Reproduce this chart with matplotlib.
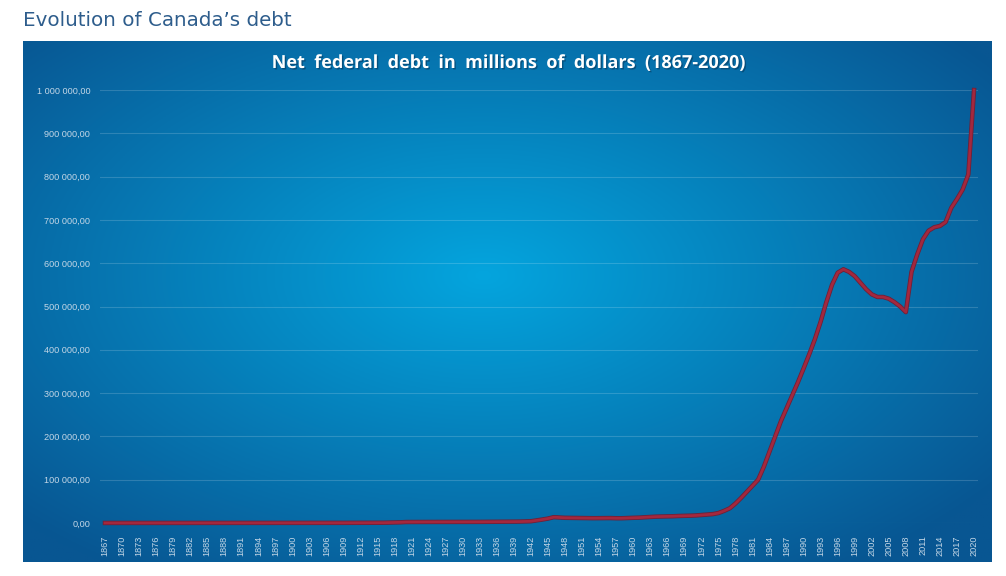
import numpy as np
import matplotlib
matplotlib.use("Agg")
import matplotlib.pyplot as plt
import matplotlib.patheffects as pe


# net federal debt, millions of dollars, one value per year 1867-2020
years = list(range(1867, 2021))
debt = [
    76, 76, 78, 78, 77, 82, 100, 108, 116, 125,          # 1867-1876
    134, 140, 142, 152, 156, 153, 158, 182, 196, 224,    # 1877-1886
    227, 235, 237, 238, 237, 241, 241, 246, 253, 258,    # 1887-1896
    262, 263, 266, 265, 268, 271, 261, 260, 266, 267,    # 1897-1906
    263, 277, 324, 336, 340, 339, 314, 336, 449, 609,    # 1907-1916
    880, 1192, 1575, 2249, 2341, 2340, 2453, 2418, 2418, 2389,   # 1917-1926
    2348, 2296, 2226, 2178, 2262, 2376, 2597, 2731, 2847, 2996,  # 1927-1936
    3083, 3101, 3153, 3271, 3649, 4045, 5960, 8000, 10262, 13421,  # 1937-1946
    12700, 12000, 11800, 11600, 11400, 11200, 11100, 11100, 11300, 11400,  # 1947-1956
    11000, 11000, 11600, 12000, 12400, 13200, 13900, 14700, 15000, 15200,  # 1957-1966
    15600, 16200, 16500, 16900, 17400, 18500, 19400, 20500, 23000, 28000,  # 1967-1976
    34000, 45000, 58000, 72000, 86000, 100000, 130000, 165000, 200000, 235000,  # 1977-1986
    265000, 295000, 325000, 357000, 390000, 425000, 465000, 510000, 550000, 578000,  # 1987-1996
    586000, 580000, 570000, 555000, 540000, 528000, 522000, 522000, 518000, 510000,  # 1997-2006
    500000, 487000, 580000, 620000, 655000, 675000, 683000, 686000, 695000, 728000,  # 2007-2016
    748000, 770000, 805000, 1000000,                     # 2017-2020
]
y_ticks = [0, 100000, 200000, 300000, 400000, 500000, 600000, 700000, 800000, 900000, 1000000]
y_labels = ["0,00", "100 000,00", "200 000,00", "300 000,00", "400 000,00", "500 000,00",
            "600 000,00", "700 000,00", "800 000,00", "900 000,00", "1 000 000,00"]
x_ticks = years[::3]

W, H = 1006, 576
fig = plt.figure(figsize=(W / 100, H / 100), dpi=100)
fig.patch.set_facecolor("white")

# blue panel with radial gradient
px0, py0, px1, py1 = 23, 41, 992, 562
bg = fig.add_axes([px0 / W, 1 - py1 / H, (px1 - px0) / W, (py1 - py0) / H])
bg.set_axis_off()
gx, gy = np.meshgrid(np.linspace(-1, 1, 400), np.linspace(-1, 1, 240))
r = np.sqrt(((gx + 0.05) / 1.05) ** 2 + ((gy + 0.1) / 1.1) ** 2)
r = np.clip(r, 0, 1.25) / 1.25
inner = np.array([4, 165, 222]) / 255
outer = np.array([8, 86, 146]) / 255
img = inner[None, None, :] * (1 - r[..., None]) + outer[None, None, :] * r[..., None]
bg.imshow(img, aspect="auto", extent=[0, 1, 0, 1], origin="upper")
bg.set_xlim(0, 1)
bg.set_ylim(0, 1)

fig.text(px0 / W, 1 - 20 / H, "Evolution of Canada\u2019s debt", color="#2e5d8c",
         fontsize=14.3, family="DejaVu Sans", va="center", ha="left")

fig.text(507 / W, 1 - 63 / H, "Net  federal  debt  in  millions  of  dollars  (1867-2020)",
         color="white", fontsize=13, family="Open Sans", fontweight="bold",
         ha="center", va="center",
         path_effects=[pe.withSimplePatchShadow(offset=(1, -1), shadow_rgbFace="#053a60", alpha=0.6)])

ax = fig.add_axes([100 / W, 1 - 523 / H, 878 / W, 433 / H])
ax.patch.set_alpha(0)
ax.set_xlim(1867 - 5 / 5.686, 2020 + 4 / 5.686)
ax.set_ylim(0, 1000000)
for s in ax.spines.values():
    s.set_visible(False)
ax.set_yticks(y_ticks)
ax.set_yticklabels(y_labels)
ax.set_xticks(x_ticks)
ax.set_xticklabels([str(y) for y in x_ticks], rotation=90)
ax.tick_params(axis="both", length=0, colors="#c3d6e6", labelsize=6.6)
ax.tick_params(axis="y", pad=7)
ax.tick_params(axis="x", pad=9)
for lab in ax.get_xticklabels() + ax.get_yticklabels():
    lab.set_family("Liberation Sans")
ax.grid(axis="y", color="white", alpha=0.16, linewidth=0.8)
ax.set_axisbelow(True)

ax.plot(years, debt, color="#a3283e", linewidth=2.0, clip_on=False, solid_joinstyle="round",
        path_effects=[pe.Stroke(linewidth=3.2, foreground="#6e2038"), pe.Normal()])

fig.savefig("out.png", dpi=100)
